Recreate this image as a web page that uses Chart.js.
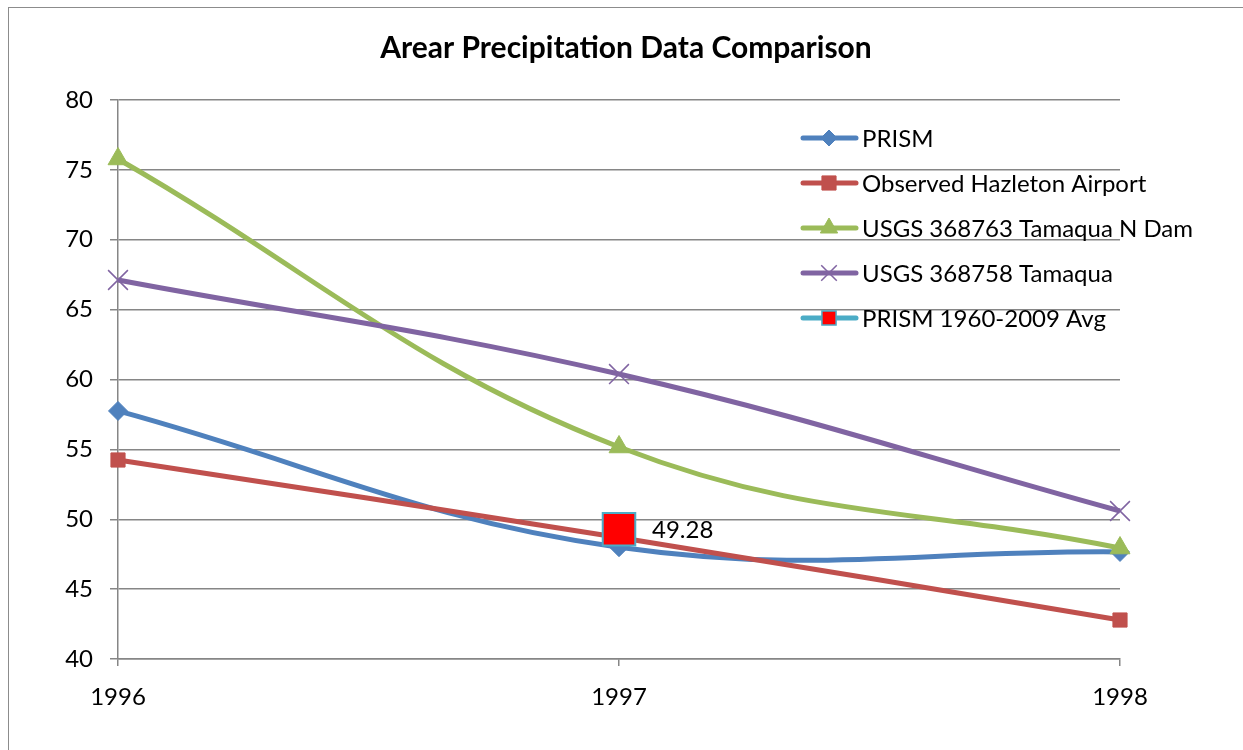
<!DOCTYPE html>
<html>
<head>
<meta charset="utf-8">
<script src="https://cdn.jsdelivr.net/npm/chart.js@4/dist/chart.umd.min.js"></script>
<style>
  html, body { margin: 0; padding: 0; background: #fff; overflow: hidden; width: 1243px; height: 750px; }
  #frame { position: absolute; left: 8px; top: 7px; width: 1400px; height: 900px;
           border-left: 1.5px solid #8c8c8c; border-top: 1.5px solid #8c8c8c; }
  #wrap { position: absolute; left: 0; top: 0; width: 1243px; height: 750px; }
</style>
</head>
<body>
<div id="frame"></div>
<div id="wrap"><canvas id="c" width="1243" height="750"></canvas></div>
<script>
// Annual areal precipitation (inches)
const years = ['1996', '1997', '1998'];
const prism = [57.75, 48.0, 47.66];
const hazletonAirport = [54.24, 48.7, 42.79];
const tamaquaNDam = [75.78, 55.17, 47.94];
const tamaqua = [67.12, 60.39, 50.59];
const prismAvg = [null, 49.28, null];
const yTicks = [40, 45, 50, 55, 60, 65, 70, 75, 80];

const TITLE = 'Arear Precipitation Data Comparison';
const FONT = 'Lato, "Open Sans", sans-serif';
const TEXT_SIZE = 24;
const GRID = '#868686';

// Title, data label and legend drawn on top of the plot
const overlay = {
  id: 'overlay',
  afterDatasetsDraw(chart) {
    const ctx = chart.ctx;
    ctx.save();
    ctx.fillStyle = '#000';
    ctx.font = 'bold 30px ' + FONT;
    ctx.textAlign = 'center';
    ctx.textBaseline = 'middle';
    ctx.fillText(TITLE, 626, 48);

    // value label beside the long-term average marker
    const avgMeta = chart.getDatasetMeta(4);
    ctx.font = TEXT_SIZE + 'px ' + FONT;
    ctx.textAlign = 'left';
    avgMeta.data.forEach((pt, i) => {
      if (prismAvg[i] == null) return;
      ctx.fillText(prismAvg[i].toFixed(2), pt.x + 33, pt.y + 1);
    });

    // legend
    chart.data.datasets.forEach((ds, i) => {
      const y = 138 + i * 45;
      ctx.strokeStyle = ds.legendLine || ds.borderColor;
      ctx.lineWidth = 5;
      ctx.lineCap = 'round';
      ctx.beginPath();
      ctx.moveTo(803, y);
      ctx.lineTo(856, y);
      ctx.stroke();
      ctx.lineCap = 'butt';
      ctx.fillStyle = ds.pointBackgroundColor;
      ctx.strokeStyle = ds.pointBorderColor;
      ctx.lineWidth = ds.legendBorder;
      Chart.helpers.drawPoint(ctx, {
        pointStyle: ds.pointStyle,
        radius: ds.legendRadius,
        borderWidth: ds.legendBorder,
        rotation: 0
      }, 829, y);
      ctx.fillStyle = '#000';
      ctx.font = TEXT_SIZE + 'px ' + FONT;
      ctx.textAlign = 'left';
      ctx.textBaseline = 'middle';
      ctx.fillText(ds.label, 862, y + 1);
    });
    ctx.restore();
  }
};

function lineSeries(label, data, color, style, radius, legendRadius, order, extra) {
  return Object.assign({
    label, data, order,
    borderColor: color,
    backgroundColor: color,
    pointBackgroundColor: color,
    pointBorderColor: color,
    pointStyle: style,
    pointRadius: radius,
    pointHoverRadius: radius,
    pointBorderWidth: 1,
    legendRadius, legendBorder: 1,
    borderWidth: 5,
    tension: 0.4,
    clip: false
  }, extra || {});
}

new Chart(document.getElementById('c'), {
  type: 'line',
  data: {
    labels: years,
    datasets: [
      lineSeries('PRISM', prism, '#4F81BD', 'rectRot', 9.5, 8, 4),
      lineSeries('Observed Hazleton Airport', hazletonAirport, '#C0504D', 'rect', 10, 10, 3),
      lineSeries('USGS 368763 Tamaqua N Dam', tamaquaNDam, '#9BBB59', 'triangle', 11.5, 10, 2),
      lineSeries('USGS 368758 Tamaqua', tamaqua, '#8064A2', 'crossRot', 14, 11, 1,
                 { pointBorderWidth: 1.5, legendBorder: 1.5 }),
      lineSeries('PRISM 1960-2009 Avg', prismAvg, '#4BACC6', 'rect', 23, 10, 0, {
        showLine: false,
        pointBackgroundColor: '#FF0000',
        pointBorderColor: '#4BACC6',
        pointBorderWidth: 2,
        legendBorder: 1.5,
        legendLine: '#4BACC6'
      })
    ]
  },
  options: {
    responsive: false,
    animation: false,
    events: [],
    layout: { padding: { left: 0, top: 100, right: 123, bottom: 0 } },
    plugins: { legend: { display: false }, title: { display: false }, tooltip: { enabled: false } },
    scales: {
      x: {
        offset: false,
        grid: { drawOnChartArea: false, drawTicks: true, tickLength: 7, color: GRID, lineWidth: 1.5 },
        border: { display: true, color: GRID, width: 1.5 },
        ticks: { color: '#000', font: { family: FONT, size: TEXT_SIZE }, padding: 17, maxRotation: 0 },
        afterFit(scale) { scale.height = 91; }
      },
      y: {
        min: 40, max: 80,
        afterBuildTicks(scale) { scale.ticks = yTicks.map(v => ({ value: v })); },
        grid: { color: GRID, lineWidth: 1.5, drawTicks: true, tickLength: 8 },
        border: { display: true, color: GRID, width: 1.5 },
        ticks: { color: '#000', font: { family: FONT, size: TEXT_SIZE }, padding: 17 },
        afterFit(scale) { scale.width = 118; }
      }
    }
  },
  plugins: [overlay]
});
</script>
</body>
</html>
